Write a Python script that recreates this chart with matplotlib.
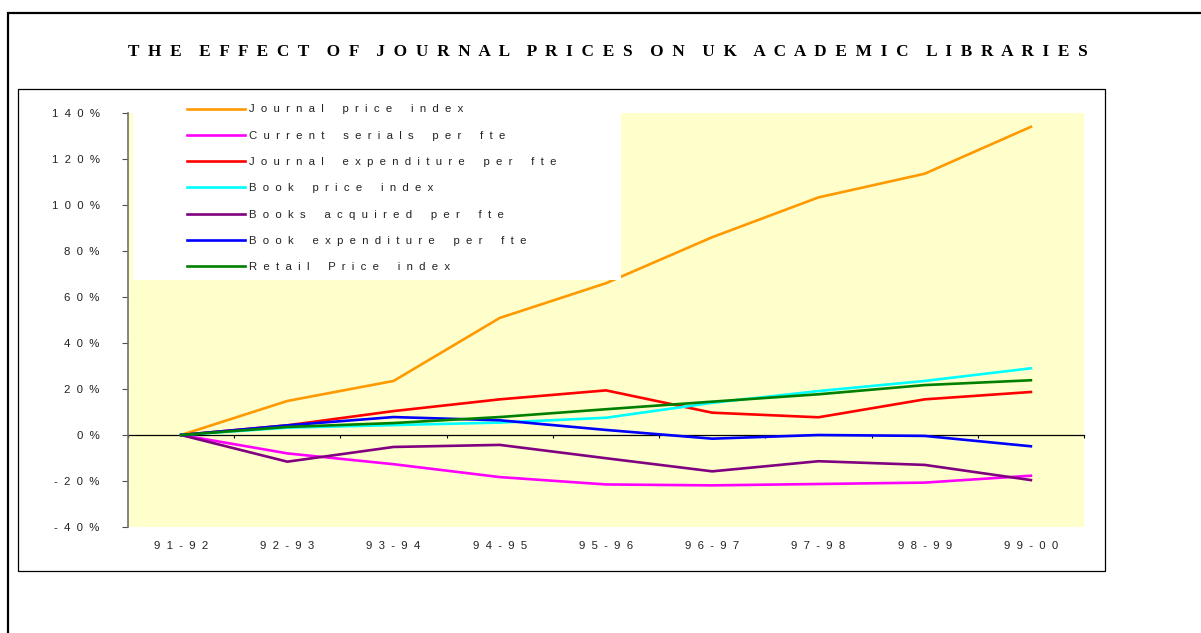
import matplotlib
matplotlib.use("Agg")
import matplotlib.pyplot as plt
from matplotlib.patches import Rectangle
import numpy as np

# ---------------- data ----------------
categories = ['91-92', '92-93', '93-94', '94-95', '95-96', '96-97', '97-98', '98-99', '99-00']
series_names = ['Journal price index', 'Current serials per fte', 'Journal expenditure per fte',
                'Book price index', 'Books acquired per fte', 'Book expenditure per fte',
                'Retail Price index']
journal_price = [0, 14.8, 23.5, 50.9, 66.0, 86.0, 103.3, 113.6, 134.0]
current_serials = [0, -8.0, -12.7, -18.3, -21.5, -21.9, -21.3, -20.7, -17.7]
journal_exp = [0, 4.2, 10.4, 15.5, 19.4, 9.7, 7.7, 15.5, 18.7]
book_price = [0, 3.2, 4.3, 5.4, 7.5, 14.0, 19.1, 23.5, 29.0]
books_acquired = [0, -11.6, -5.2, -4.3, -10.1, -15.8, -11.4, -13.0, -19.6]
book_exp = [0, 4.2, 7.8, 6.4, 2.2, -1.6, 0.0, -0.4, -4.9]
retail_price = [0, 3.5, 5.2, 7.8, 11.2, 14.5, 17.7, 21.7, 23.8]
y_ticks = [-40, -20, 0, 20, 40, 60, 80, 100, 120, 140]
title = 'THE EFFECT OF JOURNAL PRICES ON UK ACADEMIC LIBRARIES'

series = [journal_price, current_serials, journal_exp, book_price,
          books_acquired, book_exp, retail_price]
colors = ['#FF9900', '#FF00FF', '#FF0000', '#00FFFF', '#800080', '#0000FF', '#008000']


def spaced(s, gap=2, wgap=6):
    return (' ' * wgap).join((' ' * gap).join(w) for w in s.split(' '))


W, H = 1201, 633
fig = plt.figure(figsize=(W / 100, H / 100), dpi=100)
fig.patch.set_facecolor('white')


def fx(px):
    return px / W


def fy(py):
    return 1 - py / H


FS = 8.2

# outer border (extends beyond the picture)
fig.patches.append(Rectangle((fx(8), fy(700)), fx(1300), fy(13) - fy(700),
                             transform=fig.transFigure, fill=False,
                             edgecolor='black', linewidth=1.6))
# inner chart box
fig.patches.append(Rectangle((fx(18), fy(571)), fx(1105) - fx(18), fy(89) - fy(571),
                             transform=fig.transFigure, fill=False,
                             edgecolor='black', linewidth=0.9))

ax = fig.add_axes([fx(128), fy(527), fx(1084) - fx(128), fy(113) - fy(527)])
ax.set_facecolor('#FFFFCC')
x = np.arange(len(categories))
for vals, name, c in zip(series, series_names, colors):
    ax.plot(x, vals, color=c, linewidth=1.9, label=spaced(name), zorder=2,
            solid_joinstyle='miter')

ax.set_xlim(-0.5, len(categories) - 0.5)
ax.set_ylim(y_ticks[0], y_ticks[-1])
for s in ['top', 'right', 'bottom']:
    ax.spines[s].set_visible(False)
ax.spines['left'].set_color('#707070')
ax.spines['left'].set_linewidth(1.2)

ax.set_yticks(y_ticks)
ax.set_yticklabels([spaced(f'{v}%') for v in y_ticks], fontfamily='Liberation Sans',
                   fontsize=FS, color='#222222')
ax.tick_params(axis='y', direction='out', length=4.5, color='#505050', pad=16)
ax.set_xticks(x)
ax.set_xticklabels([spaced(c) for c in categories], fontfamily='Liberation Sans',
                   fontsize=FS, color='#222222')
ax.tick_params(axis='x', length=0, pad=10)

# zero axis line with category boundary ticks
zero_pos = (0 - y_ticks[0]) / (y_ticks[-1] - y_ticks[0])
sec = ax.secondary_xaxis(zero_pos)
sec.set_xticks(np.arange(len(categories) + 1) - 0.5)
sec.set_xticklabels([])
sec.tick_params(direction='out', length=2.5, width=0.8, color='black')
sec.spines['bottom'].set_color('black')
sec.spines['bottom'].set_linewidth(0.9)

# white legend area
ax.add_patch(Rectangle((fx(133), fy(280)), fx(621) - fx(133), fy(113) - fy(280),
                       transform=fig.transFigure, facecolor='white', edgecolor='none',
                       zorder=3, clip_on=False))
leg = ax.legend(loc='upper left', bbox_to_anchor=(fx(187), fy(104.5)),
                bbox_transform=fig.transFigure, frameon=False,
                prop={'family': 'Liberation Sans', 'size': FS},
                handlelength=5.1, handletextpad=0.35, labelspacing=1.43,
                borderpad=0, borderaxespad=0)
leg.set_zorder(5)
for h in leg.get_lines():
    h.set_linewidth(1.9)
for t in leg.get_texts():
    t.set_color('#222222')

fig.text(fx(608), fy(51.5), spaced(title, gap=2, wgap=4), ha='center', va='center',
         fontfamily='Liberation Serif', fontweight='bold', fontsize=12.4)

fig.savefig('out.png', dpi=100)
